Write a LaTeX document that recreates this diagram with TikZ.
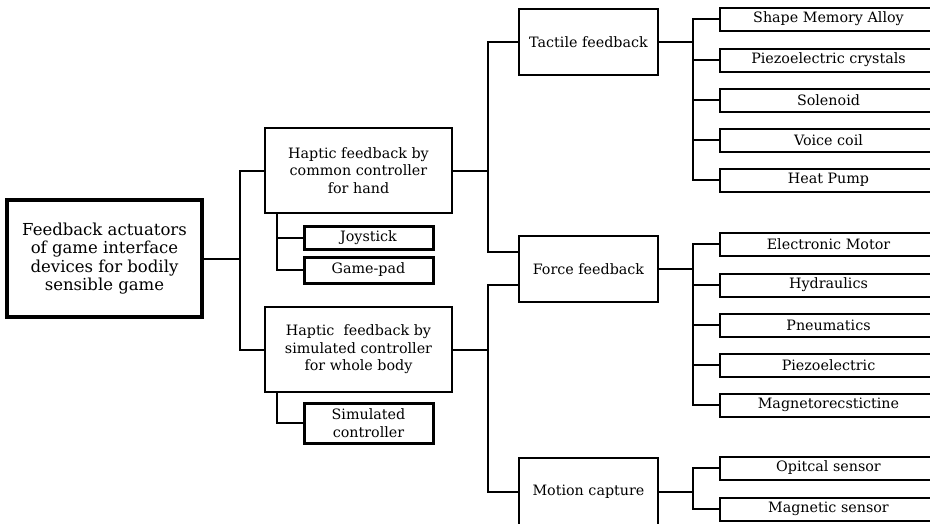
\documentclass[tikz,border=0pt]{standalone}
\usepackage{fontspec}
\setmainfont{DejaVu Serif}

\begin{document}
\begin{tikzpicture}[x=1pt, y=-1pt, line width=2pt,
	box/.style={draw, align=center, inner sep=0pt, font=\fontsize{14.3}{17.5}\selectfont},
	topbox/.style={box, line width=3.8pt, minimum width=195pt, minimum height=117pt, font=\fontsize{16.5}{18.3}\selectfont},
	hapbox/.style={box, line width=2.4pt, minimum width=187pt, minimum height=85pt},
	subbox/.style={box, line width=3pt, minimum width=129pt},
	midbox/.style={box, line width=2pt, minimum width=139pt, minimum height=66pt},
	leafbox/.style={box, line width=2pt, minimum width=217pt, minimum height=23pt}]
\clip (0,0) rectangle (930,523);

\node[topbox] (root) at (104.5,258.5) {Feedback actuators\\of game interface\\devices for bodily\\sensible game};

\node[hapbox] (hand) at (358.5,170.5) {Haptic feedback by\\common controller\\for hand};
\node[subbox, minimum height=23pt] (joy) at (368.5,237.5) {Joystick};
\node[subbox, minimum height=26pt] (pad) at (368.5,270) {Game-pad};
\node[hapbox] (body) at (358.5,349.5) {Haptic~ feedback by\\simulated controller\\for whole body};
\node[subbox, minimum height=40pt] (sim) at (368.5,423) {Simulated\\controller};

\node[midbox] (tact) at (588.5,42) {Tactile feedback};
\node[midbox] (force) at (588.5,269) {Force feedback};
\node[midbox, minimum height=68pt] (motion) at (588.5,492) {Motion capture};

\node[leafbox] (sma) at (828.5,19) {Shape Memory Alloy};
\node[leafbox] (pzc) at (828.5,60) {Piezoelectric crystals};
\node[leafbox] (sol) at (828.5,100) {Solenoid};
\node[leafbox] (vc) at (828.5,140) {Voice coil};
\node[leafbox] (hp) at (828.5,180) {Heat Pump};

\node[leafbox] (em) at (828.5,244) {Electronic Motor};
\node[leafbox] (hyd) at (828.5,285) {Hydraulics};
\node[leafbox] (pn) at (828.5,325) {Pneumatics};
\node[leafbox] (pz) at (828.5,365) {Piezoelectric};
\node[leafbox] (mag) at (828.5,405) {Magnetorecstictine};

\node[leafbox] (opt) at (828.5,468) {Opitcal sensor};
\node[leafbox] (ms) at (828.5,509) {Magnetic sensor};

\draw (root.east) -- ++(36,0) |- (hand.west);
\draw (root.east) -- ++(36,0) |- (body.west);

\draw ([xshift=13pt]hand.south west) |- (joy.west);
\draw ([xshift=13pt]hand.south west) |- (pad.west);
\draw ([xshift=13pt]body.south west) |- (sim.west);

\draw (hand.east) -- ++(35,0) |- (tact.west);
\draw (hand.east) -- ++(35,0) |- ([yshift=17pt]force.west);
\draw (body.east) -- ++(35,0) |- ([yshift=-16pt]force.west);
\draw (body.east) -- ++(35,0) |- (motion.west);

\foreach \leaf in {sma,pzc,sol,vc,hp}
	\draw (tact.east) -- ++(34,0) |- (\leaf.west);
\foreach \leaf in {em,hyd,pn,pz,mag}
	\draw (force.east) -- ++(34,0) |- (\leaf.west);
\foreach \leaf in {opt,ms}
	\draw (motion.east) -- ++(34,0) |- (\leaf.west);

\end{tikzpicture}
\end{document}
